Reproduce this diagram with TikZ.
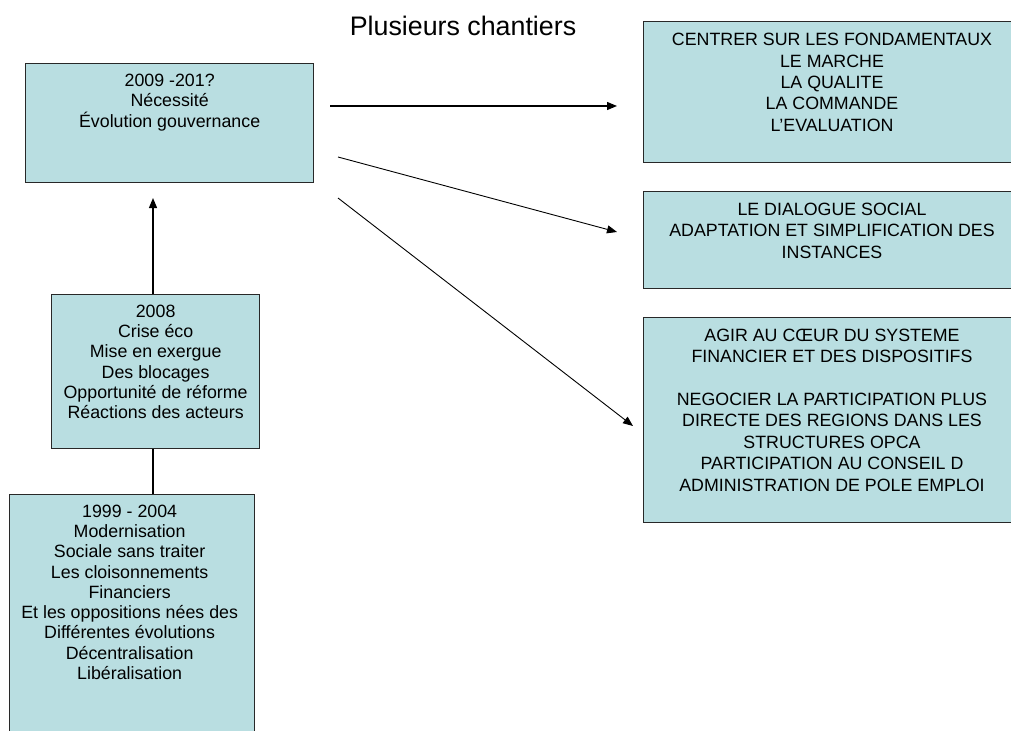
\documentclass[tikz,border=0pt]{standalone}
\usepackage{fontspec}
\setmainfont{Liberation Sans}
\usetikzlibrary{arrows.meta}
\definecolor{boxfill}{RGB}{185,222,225}
\definecolor{boxline}{RGB}{40,40,40}
\begin{document}
\begin{tikzpicture}[x=1bp,y=-1bp,
  panel/.style={draw=boxline,line width=1.3bp,fill=boxfill,inner sep=0pt,anchor=north west},
  lefttxt/.style={anchor=north,inner sep=0pt,align=center,font=\fontsize{17.8bp}{20.3bp}\selectfont},
  righttxt/.style={anchor=north,inner sep=0pt,align=center,font=\fontsize{17.8bp}{21.4bp}\selectfont},
  link/.style={line width=1.2bp,-{Triangle[length=10bp,width=8bp]}},
  thin link/.style={line width=0.9bp,-{Triangle[length=10bp,width=8bp]}}]
\useasboundingbox (0,0) rectangle (1011,731);
\clip (0,0) rectangle (1011,731);
% title
\node[anchor=base,inner sep=0pt,font=\fontsize{26.8bp}{32bp}\selectfont] (title) at (463,36) {Plusieurs chantiers};
% left boxes
\node[panel,minimum width=288bp,minimum height=119bp] (A) at (25,63) {};
\node[lefttxt] (At) at ([yshift=-11bp]A.north) {2009 -201?\\Nécessité\\Évolution gouvernance};
\node[panel,minimum width=208bp,minimum height=154bp] (B) at (51,294) {};
\node[lefttxt] (Bt) at ([yshift=-10.5bp]B.north) {2008\\Crise éco\\Mise en exergue\\Des blocages\\Opportunité de réforme\\Réactions des acteurs};
\node[panel,minimum width=245bp,minimum height=266bp] (C) at (9,494) {};
\node[lefttxt] (Ct) at ([yshift=-10.5bp,xshift=-2.5bp]C.north) {1999 - 2004\\Modernisation\\Sociale sans traiter\\Les cloisonnements\\Financiers\\Et les oppositions nées des\\Différentes évolutions\\Décentralisation\\Libéralisation};
% right boxes
\node[panel,minimum width=378bp,minimum height=141bp] (R1) at (643,21) {};
\node[righttxt] (R1t) at (832,33) {CENTRER SUR LES FONDAMENTAUX\\LE MARCHE\\LA QUALITE\\LA COMMANDE\\L’EVALUATION};
\node[panel,minimum width=378bp,minimum height=97bp] (R2) at (643,191) {};
\node[righttxt] (R2t) at (832,202.7) {LE DIALOGUE SOCIAL\\ADAPTATION ET SIMPLIFICATION DES\\INSTANCES};
\node[panel,minimum width=378bp,minimum height=205bp] (R3) at (643,317) {};
\node[righttxt] (R3t) at (832,328.6) {AGIR AU CŒUR DU SYSTEME\\FINANCIER ET DES DISPOSITIFS\\[21.4bp]NEGOCIER LA PARTICIPATION PLUS\\DIRECTE DES REGIONS DANS LES\\STRUCTURES OPCA\\PARTICIPATION AU CONSEIL D\\ADMINISTRATION DE POLE EMPLOI};
% connector end points
\coordinate (a1s) at (330,106);
\coordinate (a1e) at (617,106);
\coordinate (a2s) at (338,157);
\coordinate (a2e) at (617,232);
\coordinate (a3s) at (338,198);
\coordinate (a3e) at (633,426);
\coordinate (upe) at (153,198);
% connectors
\draw[link] (a1s) -- (a1e);
\draw[thin link] (a2s) -- (a2e);
\draw[thin link] (a3s) -- (a3e);
\draw[link] (B.north -| upe) -- (upe);
\draw[line width=1.2bp] (C.north -| upe) -- (B.south -| upe);
\end{tikzpicture}
\end{document}
